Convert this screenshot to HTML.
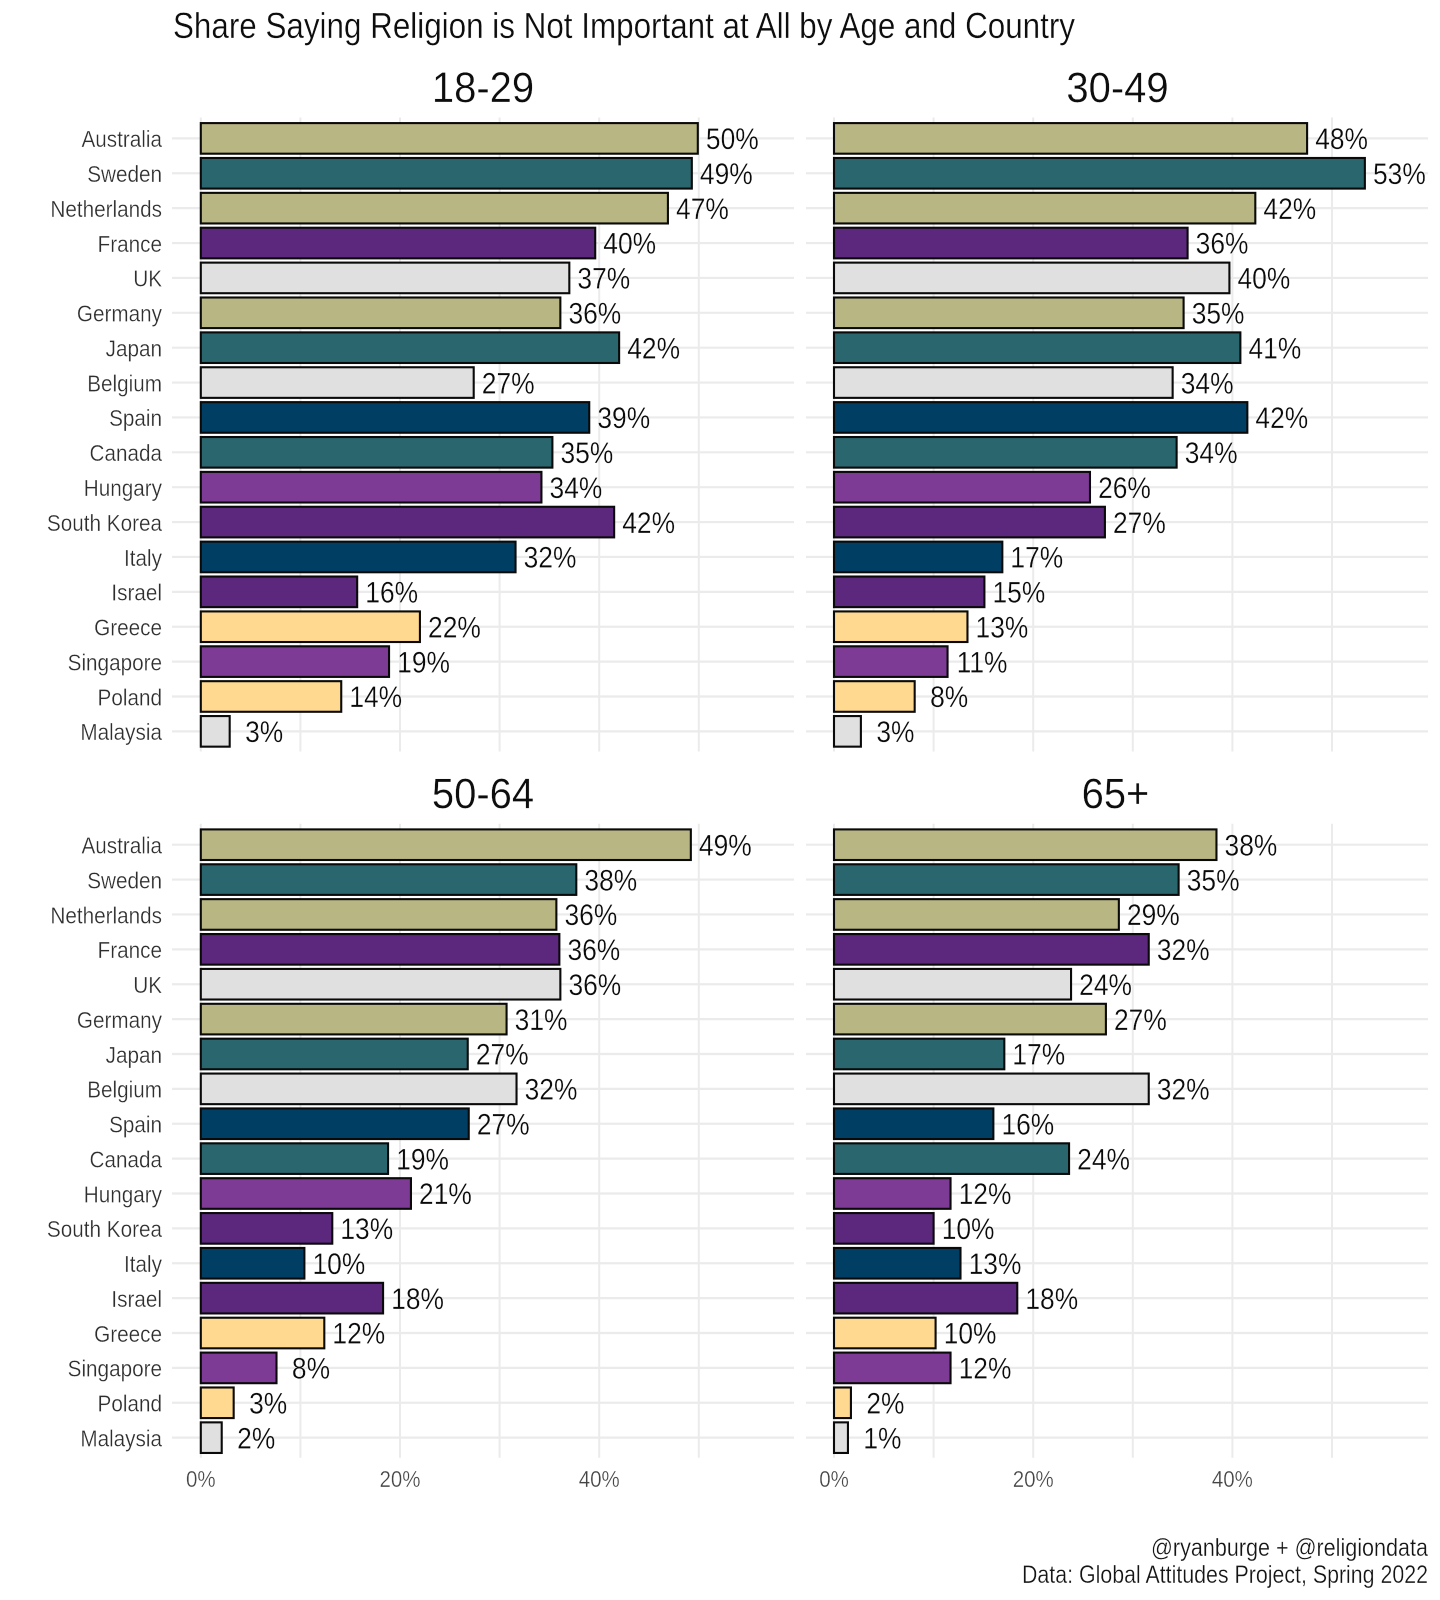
<!DOCTYPE html>
<html lang="en">
<head>
<meta charset="utf-8">
<title>Share Saying Religion is Not Important at All by Age and Country</title>
<style>
  html, body { margin: 0; padding: 0; background: #fff; }
  svg { display: block; font-family: "Liberation Sans", sans-serif; }
  text { stroke: #ffffff; stroke-width: 0.3px; }
</style>
</head>
<body>
<svg id="chart" xmlns="http://www.w3.org/2000/svg" width="1440" height="1600" viewBox="0 0 1440 1600">
  <rect x="0" y="0" width="1440" height="1600" fill="#ffffff"/>
  <text x="173" y="38" font-size="36" fill="#0d0d0d" textLength="902" lengthAdjust="spacingAndGlyphs">Share Saying Religion is Not Important at All by Age and Country</text>
  <text x="1151" y="1556" font-size="25" fill="#141414" textLength="277" lengthAdjust="spacingAndGlyphs">@ryanburge + @religiondata</text>
  <text x="1022" y="1583" font-size="25" fill="#141414" textLength="406" lengthAdjust="spacingAndGlyphs">Data: Global Attitudes Project, Spring 2022</text>
</svg>
<script>
const countries = ["Australia","Sweden","Netherlands","France","UK","Germany","Japan","Belgium","Spain","Canada","Hungary","South Korea","Italy","Israel","Greece","Singapore","Poland","Malaysia"];
const countryColors = ["#b8b682","#2a666e","#b8b682","#5b287d","#e0e0e0","#b8b682","#2a666e","#e0e0e0","#003f63","#2a666e","#7d3b96","#5b287d","#003f63","#5b287d","#ffd98f","#7d3b96","#ffd98f","#e0e0e0"];
const ageGroups = ["18-29","30-49","50-64","65+"];
const values1829 = [49.9,49.3,46.9,39.6,37.0,36.1,42.0,27.4,39.0,35.3,34.2,41.5,31.6,15.7,22.0,18.9,14.1,2.9];
const values3049 = [47.5,53.3,42.3,35.5,39.7,35.1,40.8,34.0,41.5,34.4,25.7,27.2,16.9,15.1,13.4,11.4,8.1,2.7];
const values5064 = [49.2,37.7,35.7,36.0,36.1,30.7,26.8,31.7,26.9,18.8,21.1,13.2,10.4,18.3,12.4,7.6,3.3,2.1];
const values65plus = [38.4,34.6,28.6,31.6,23.8,27.3,17.1,31.6,16.0,23.6,11.7,10.0,12.7,18.4,10.2,11.7,1.7,1.4];
const gridTicks = [0,10,20,30,40,50];
const xTickLabels = ["0%","20%","40%"];
const xTickValues = [0,20,40];

const seriesByPanel = [values1829, values3049, values5064, values65plus];

const svg = document.getElementById("chart");
const NS = "http://www.w3.org/2000/svg";

function make(tag, attrs, parent, text) {
  const el = document.createElementNS(NS, tag);
  for (const k in attrs) el.setAttribute(k, attrs[k]);
  if (text !== undefined) el.textContent = text;
  parent.appendChild(el);
  return el;
}
function xScale(value, col) { return 200.8 + col * 633.2 + value * 9.96; }
function yScale(index, row) { return 138.4 + row * 706.3 + index * 34.88; }

ageGroups.forEach(function (age, p) {
  const col = p % 2;
  const row = Math.floor(p / 2);
  const left = 172 + col * 634;
  const right = 794 + col * 634;
  const top = 117.5 + row * 706.3;
  const bottom = 751.5 + row * 706.3;
  const values = seriesByPanel[p];

  const panel = make("g", {}, svg);
  
  

  const panelTitle = make("text", {
    transform: "translate(" + (483 + col * 632.5 + (p === 1 ? 2 : 0)) + "," + (102 + row * 706) + ") scale(0.93,1)",
    "text-anchor": "middle", "font-size": 43, fill: "#0d0d0d"
  }, panel, age);
  
  

  gridTicks.forEach(function (t) {
    const line = make("line", {
      x1: xScale(t, col), x2: xScale(t, col), y1: top, y2: bottom,
      stroke: "#ebebeb", "stroke-width": 2
    }, panel);
    
    
  });

  countries.forEach(function (c, i) {
    const line = make("line", {
      x1: left, x2: right, y1: yScale(i, row), y2: yScale(i, row),
      stroke: "#ebebeb", "stroke-width": 2.2
    }, panel);
    
    
  });

  countries.forEach(function (c, i) {
    const y = yScale(i, row);
    const v = values[i];
    const bar = make("rect", {
      x: xScale(0, col), y: y - 15.3,
      width: xScale(v, col) - xScale(0, col), height: 30.6,
      fill: countryColors[i], stroke: "#0a0a0a", "stroke-width": 2.1
    }, panel);
    
    

    const label = make("text", {
      transform: "translate(" + (xScale(v, col) + 34.5) + "," + (y + 10.7) + ") scale(0.88,1)",
      "text-anchor": "middle", "font-size": 30, fill: "#0a0a0a"
    }, panel, Math.round(v) + "%");
    
    

    if (col === 0) {
      const cat = make("text", {
        transform: "translate(162," + (y + 8.8) + ") scale(0.9,1)",
        "text-anchor": "end", "font-size": 23, fill: "#2e2e2e"
      }, panel, c);
      
      
    }
  });

  if (row === 1) {
    xTickValues.forEach(function (t, k) {
      const tick = make("text", {
        transform: "translate(" + xScale(t, col) + ",1487) scale(0.89,1)",
        "text-anchor": "middle", "font-size": 23, fill: "#444444"
      }, panel, xTickLabels[k]);
      
      
    });
  }
});
</script>
</body>
</html>
